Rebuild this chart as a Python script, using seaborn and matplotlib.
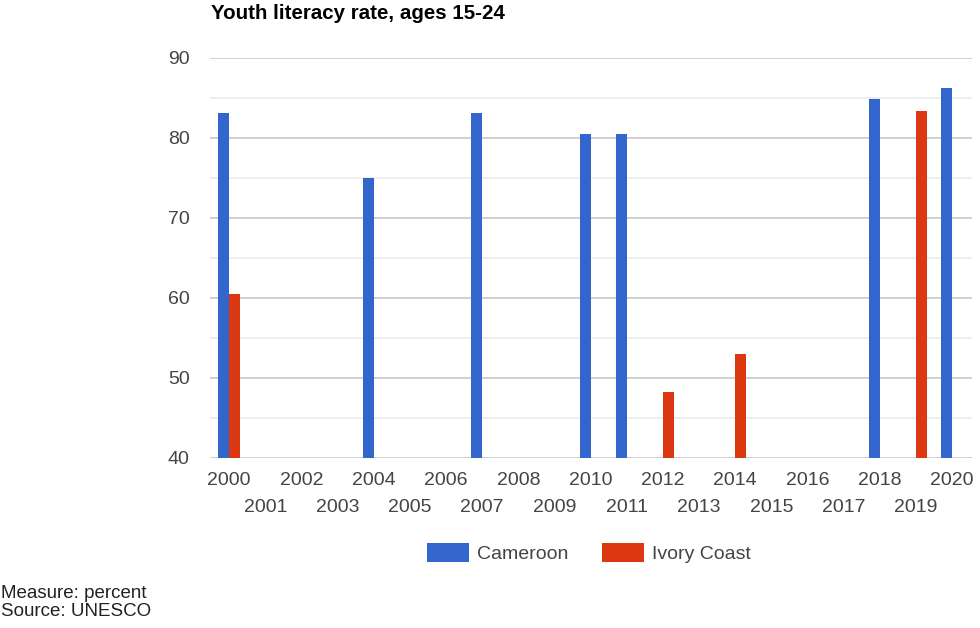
import matplotlib
matplotlib.use("Agg")
import matplotlib.pyplot as plt
import seaborn as sns
import pandas as pd
import numpy as np

# Youth literacy rate (ages 15-24), percent
cameroon_years = [2000, 2004, 2007, 2010, 2011, 2018, 2020]
cameroon_values = [83.1, 75.0, 83.1, 80.5, 80.5, 84.9, 86.2]
ivory_years = [2000, 2012, 2014, 2019]
ivory_values = [60.5, 48.2, 53.0, 83.4]
countries = ["Cameroon", "Ivory Coast"]
palette = {"Cameroon": "#3366CC", "Ivory Coast": "#DC3912"}
year_ticks = list(range(2000, 2021))

df = pd.concat([
    pd.DataFrame({"year": cameroon_years, "rate": cameroon_values, "country": countries[0]}),
    pd.DataFrame({"year": ivory_years, "rate": ivory_values, "country": countries[1]}),
], ignore_index=True)

sns.set_style("white")
plt.rcParams["font.family"] = ["Liberation Sans", "DejaVu Sans"]

fig = plt.figure(figsize=(9.8, 6.28), dpi=100)
ax = fig.add_axes([210 / 980, 1 - 458 / 628, 762 / 980, 400 / 628])

sns.barplot(data=df, x="year", y="rate", hue="country", hue_order=countries,
            palette=palette, native_scale=True, width=0.6, errorbar=None,
            linewidth=0, saturation=1, ax=ax)

handles, labels = ax.get_legend_handles_labels()
if ax.get_legend() is not None:
    ax.get_legend().remove()

ax.set_xlim(1999.47, 2020.55)
ax.set_ylim(40, 90)
ax.set_xlabel("")
ax.set_ylabel("")

# y grid: major every 10, faint minor lines halfway
ax.set_yticks(np.arange(40, 91, 10))
ax.set_yticks(np.arange(45, 90, 10), minor=True)
ax.yaxis.grid(True, which="major", color="#c8c8c8", linewidth=1.2)
ax.yaxis.grid(True, which="minor", color="#ebebeb", linewidth=1.2)
ax.xaxis.grid(False)
ax.set_axisbelow(True)
for s in ax.spines.values():
    s.set_visible(False)

# alternating year labels on two rows
even = [y for y in year_ticks if y % 2 == 0]
odd = [y for y in year_ticks if y % 2 == 1]
ax.set_xticks(even)
ax.set_xticklabels([str(y) for y in even])
ax.set_xticks(odd, minor=True)
ax.set_xticklabels([str(y) for y in odd], minor=True)

ax.tick_params(axis="x", which="major", length=0, pad=10, labelsize=14, labelcolor="#444444")
ax.tick_params(axis="x", which="minor", length=0, pad=29.5, labelsize=14, labelcolor="#444444")
ax.tick_params(axis="y", which="both", length=0, pad=14.5, labelsize=14, labelcolor="#444444")

fig.text(211 / 980, 1 - 4 / 628, "Youth literacy rate, ages 15-24", fontsize=14.8,
         fontweight="bold", color="#000000", ha="left", va="top")

fig.legend(handles, labels, loc="center", bbox_to_anchor=(589 / 980, 1 - 553 / 628),
           ncol=2, frameon=False, fontsize=14, handlelength=2.16, handleheight=1.08,
           handletextpad=0.42, columnspacing=1.75, labelcolor="#444444",
           borderaxespad=0, borderpad=0)

fig.text(0.001, 1 - 594 / 628, "Measure: percent", fontsize=13.5, color="#222222",
         ha="left", va="center")
fig.text(0.001, 1 - 611 / 628, "Source: UNESCO", fontsize=13.5, color="#222222",
         ha="left", va="center")

fig.savefig("out.png", dpi=100)
